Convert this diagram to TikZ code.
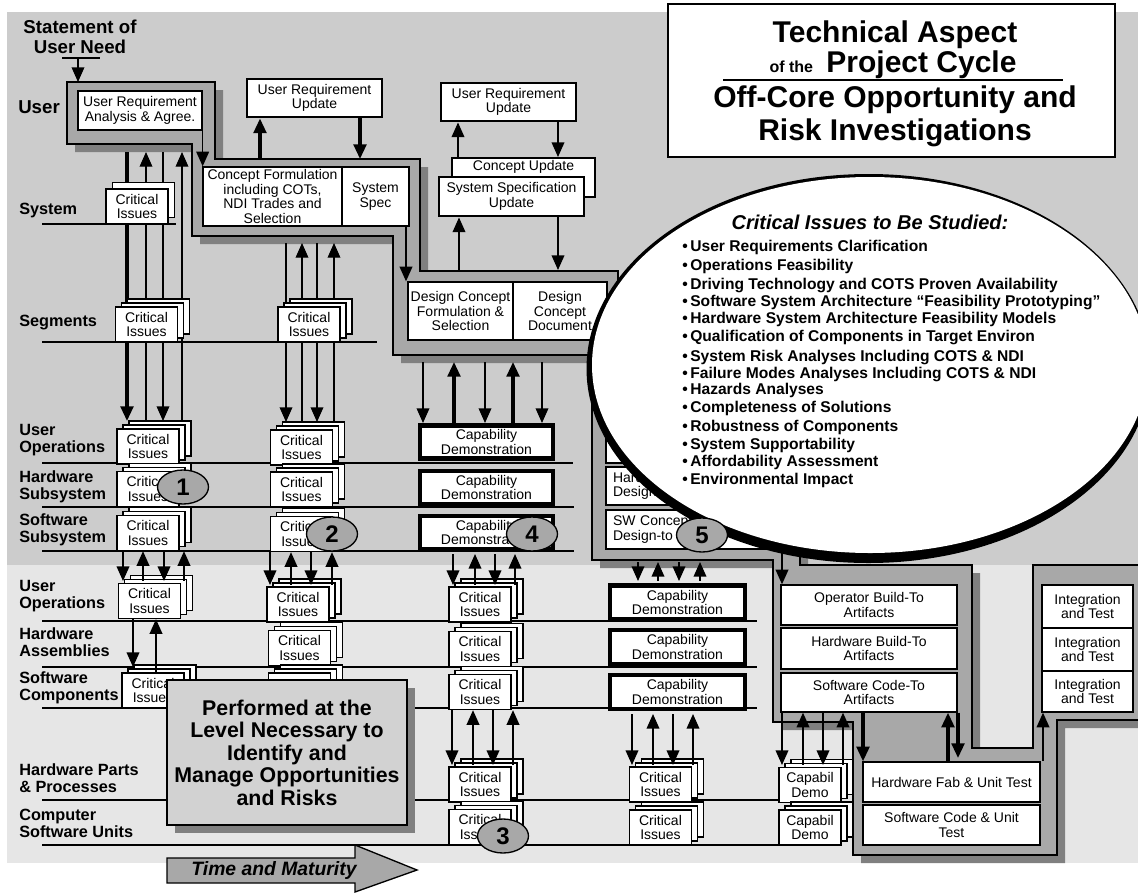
\documentclass[tikz,border=0pt]{standalone}
\usepackage{fontspec}
\setmainfont{Liberation Sans}
\usetikzlibrary{arrows.meta, shadows, shapes.geometric}

\definecolor{bandtop}{HTML}{CCCCCC}
\definecolor{bandlow}{HTML}{E6E6E6}
\definecolor{stepgray}{HTML}{A8A8A8}
\definecolor{shadegray}{HTML}{808080}
\definecolor{notegray}{HTML}{D2D2D2}

\tikzset{
  wh/.style 2 args={minimum width=#1*0.75pt, minimum height=#2*0.75pt},
  box/.style={draw, fill=white, line width=1pt, inner sep=0pt, align=center,
    font=\fontsize{10.5}{10.8}\selectfont},
  fatbox/.style={box, line width=2.2pt},
  capbox/.style={box, line width=3.3pt},
  sheet/.style={fill=white, draw=black, line width=1pt},
  issues/.style={box, wh={62}{35},
    general shadow={sheet, shadow xshift=9pt, shadow yshift=6pt},
    general shadow={sheet, shadow xshift=4.5pt, shadow yshift=3pt}},
  issues2/.style={box, wh={62}{35},
    general shadow={sheet, shadow xshift=5pt, shadow yshift=5pt}},
  level/.style={anchor=west, align=left, inner sep=0pt,
    font=\fontsize{12.2}{12.8}\selectfont\bfseries},
  tag/.style={ellipse, draw, fill=stepgray, line width=1pt, inner sep=0pt,
    wh={51}{34}, font=\fontsize{18}{18}\selectfont\bfseries},
  link/.style={line width=1.2pt},
  hair/.style={line width=1pt},
  heavy/.style={line width=2.4pt},
  godn/.style={-{Triangle[length=11pt,width=9.5pt]}},
  goup/.style={{Triangle[length=11pt,width=9.5pt]}-},
  lift/.style={drop shadow={shadow xshift=6pt, shadow yshift=-6pt,
    opacity=1, fill=shadegray}},
}

\begin{document}
\begin{tikzpicture}[x=0.75pt, y=-0.75pt]
\useasboundingbox (0,0) rectangle (1138,893);

% two background bands
\fill[bandtop] (7,12) rectangle (1138,565);
\fill[bandlow] (7,565) rectangle (1138,863);

% level lines and their names
\foreach \y/\xe in {224/176, 342/377, 463/573, 507/574, 551/574,
                    621/757, 667/757, 708/757, 800/779, 845/779}
  \draw[hair] (42,\y) -- (\xe,\y);

\node[align=center, inner sep=0pt, font=\fontsize{14}{15}\selectfont\bfseries]
  (need) at (80,37) {Statement of\\User Need};
\node[level, font=\fontsize{14}{15}\selectfont\bfseries] (lvuser) at (18,107) {User};
\foreach \y/\lbl/\nm in {211/System/sys, 323/Segments/seg,
    440/{User\\Operations}/uop, 487/{Hardware\\Subsystem}/hws,
    530/{Software\\Subsystem}/sws, 596/{User\\Operations}/uoptwo,
    642/{Hardware\\Assemblies}/hwa, 688/{Software\\Components}/swc,
    778/{Hardware Parts\\\& Processes}/hwp, 823/{Computer\\Software Units}/csu}
  \node[level] (lv\nm) at (19,\y) {\lbl};

% the off-core step band
\filldraw[fill=stepgray, line width=1.2pt, lift]
  (67,82) -- (215,82) -- (215,159) -- (420,159) -- (420,271) -- (618,271)
  -- (618,365) -- (800,365) -- (800,565) -- (972,565) -- (972,748)
  -- (1033,748) -- (1033,565) -- (1150,565) -- (1150,720) -- (1057,720)
  -- (1057,855) -- (853,855) -- (853,722) -- (773,722) -- (773,560)
  -- (592,560) -- (592,355) -- (393,355) -- (393,236) -- (192,236)
  -- (192,144) -- (67,144) -- cycle;

\draw[hair] (62,58) -- (100,58);
\draw[hair, godn] (78,58) -- (78,82);

% long bundles that run behind the stacks
\foreach \x/\s/\w in {127/godn/heavy, 146/goup/hair, 163/godn/hair, 182/goup/hair}
  \draw[\w,\s] (\x,152) -- (\x,421);
\foreach \x/\s in {286/godn, 302/goup, 317/godn, 334/goup}
  \draw[hair,\s] (\x,243) -- (\x,422);

% user / concept / design boxes
\node[box, wh={124}{39}] (ura) at (140,110.5) {User Requirement\\Analysis \& Agree.};
\node[fatbox, wh={135}{38}] (uru1) at (314.5,98) {User Requirement\\Update};
\node[box, wh={139}{59}] (cf) at (272.5,196.5) {Concept Formulation\\including COTs,\\NDI Trades and\\Selection};
\node[box, wh={67}{59}] (sspec) at (375.5,196.5) {System\\Spec};
\node[fatbox, wh={135}{38}] (uru2) at (508.5,102) {User Requirement\\Update};
\node[fatbox, wh={143}{39}] (cu) at (523.5,177.5) {};
\node[anchor=north, inner sep=2.5pt, font=\fontsize{10.5}{10.8}\selectfont] (cutext) at (cu.north) {Concept Update};
\node[fatbox, wh={145}{39}] (ssu) at (511.5,196.5) {System Specification\\Update};
\node[box, wh={105}{58}] (dcf) at (460.5,311) {Design Concept\\Formulation \&\\Selection};
\node[box, wh={94}{58}] (dcd) at (560,311) {Design\\Concept\\Document};

\draw[link, godn] (ura.south east) -- (ura.south east |- cf.north);
\draw[heavy, goup] (260,0 |- uru1.south) -- (260,159);
\draw[heavy, godn] (360,0 |- uru1.south) -- (360,159);
\draw[link, goup] (458,0 |- uru2.south) -- (458,0 |- cu.north);
\draw[link, godn] (558,0 |- uru2.south) -- (558,157);
\draw[link, goup] (459,0 |- ssu.south) -- (459,271);
\draw[link, godn] (558,0 |- ssu.south) -- (558,270);
\draw[link, godn] (406,0 |- sspec.south) -- (406,0 |- dcf.north);

% design-to boxes
\node[box, wh={184}{40}] (opdt) at (698,443) {};
\node[box, wh={184}{38}, text width=127.5pt, align=left] (hwdt) at (698,486) {Hardware\\Design-To};
\node[box, wh={184}{39}, text width=127.5pt, align=left] (swdt) at (698,529.5) {SW Concept\\Design-to Specs};

% capability demonstrations
\foreach \nm/\y in {cdA/442, cdB/487.5, cdC/532.5}
  \node[capbox, wh={133}{33}] (\nm) at (486.5,\y) {Capability\\Demonstration};
\foreach \nm/\y in {ldA/602.5, ldB/647, ldC/692}
  \node[capbox, wh={135}{34}] (\nm) at (677.5,\y) {Capability\\Demonstration};

% critical issue stacks
\node[issues2] (ciSys) at (137,206.5) {Critical\\Issues};
\foreach \nm/\x/\y in {ciSegA/146.5/324.5, ciUopA/148/446.5, ciHwsA/148/489,
    ciSwsA/148/533, ciUoptwoA/149.5/601, ciSwcA/153/690.5,
    ciSegB/309/324.5, ciUopB/301.5/447.5, ciHwsB/301.5/489.5, ciSwsB/301.5/534,
    ciUoptwoB/298/604.5, ciHwaB/299.5/648,
    ciUoptwoC/480/604.5, ciHwaC/480/649, ciSwcC/480/692,
    ciHwpC/480/784.5, ciCsuC/480/827,
    ciHwpD/660.5/784.5, ciCsuD/660.5/827.5}
  \node[issues] (\nm) at (\x,\y) {Critical\\Issues};
\node[issues] (ciSwcB) at (299.5,690.5) {};
\foreach \nm/\y in {demoHwp/785, demoCsu/827.5}
  \node[issues] (\nm) at (810,\y) {Capabil\\Demo};

% build-to, fab and integration boxes
\node[box, wh={176}{40}] (obt) at (869,605) {Operator Build-To\\Artifacts};
\node[box, wh={176}{41}] (hbt) at (869,648.5) {Hardware Build-To\\Artifacts};
\node[box, wh={176}{39}] (sct) at (869,692.5) {Software Code-To\\Artifacts};
\node[box, wh={177}{40}] (hfu) at (951.5,782) {Hardware Fab \& Unit Test};
\node[box, wh={177}{40}] (scu) at (951.5,825) {Software Code \& Unit\\Test};
\foreach \nm/\y/\hh in {itA/606.5/43, itB/649.5/43, itC/691.5/41}
  \node[box, wh={91}{\hh}] (\nm) at (1087.5,\y) {Integration\\and Test};

% short bundles between levels
\foreach \x/\s in {123/godn, 143/goup, 164/godn, 184/goup}
  \draw[link,\s] (\x,0 |- ciSwsA.south) -- (\x,581);
\draw[link, godn] (133,0 |- ciUoptwoA.south) -- (133,667);
\draw[link, goup] (156,0 |- ciUoptwoA.south) -- (156,0 |- ciSwcA.north);
\foreach \x/\s in {270/godn, 291/goup, 311/godn, 332/goup}
  \draw[link,\s] (\x,0 |- ciSwsB.south) -- (\x,585);
\foreach \x/\s/\w in {423/godn/hair, 454/goup/heavy, 485/godn/hair, 513/goup/heavy, 542/godn/hair}
  \draw[\w,\s] (\x,362) -- (\x,423);
\foreach \x/\s in {453/godn, 475/goup, 495/godn, 515/goup}
  \draw[link,\s] (\x,554) -- (\x,585);
\foreach \x/\s in {452/godn, 473/goup, 493/godn, 513/goup}
  \draw[link,\s] (\x,0 |- ciSwcC.south) -- (\x,765);
\foreach \x/\s in {638/godn, 658/goup, 679/godn, 700/goup}
  \draw[link,\s] (\x,562) -- (\x,581);
\foreach \x/\s in {632/godn, 653/goup, 673/godn, 693/goup}
  \draw[link,\s] (\x,714) -- (\x,765);
\draw[link, godn] (782,552) -- (782,0 |- obt.north);
\foreach \x/\s in {782/godn, 803/goup, 823/godn, 843/goup}
  \draw[link,\s] (\x,0 |- sct.south) -- (\x,765);
\draw[heavy, godn] (863,0 |- sct.south) -- (863,0 |- hfu.north);
\draw[heavy, goup] (948,0 |- sct.south) -- (948,0 |- hfu.north);
\draw[heavy, godn] (958,0 |- sct.south) -- (958,758);
\draw[link, goup] (1043,0 |- itC.south) -- (1043,0 |- hfu.north);

% issues to be studied: rim heavier towards the lower left
\fill[black] (868.5,368.5) ellipse [x radius=282, y radius=194.5];
\fill[white] (870,365) ellipse [x radius=278, y radius=188];
\node[font=\fontsize{15}{15}\selectfont\bfseries\itshape] (studyhead) at (870,222)
  {Critical Issues to Be Studied:};
\foreach \y/\lbl in {247/User Requirements Clarification,
    266/Operations Feasibility,
    285/Driving Technology and COTS Proven Availability,
    302/Software System Architecture “Feasibility Prototyping”,
    319/Hardware System Architecture Feasibility Models,
    337/Qualification of Components in Target Environ,
    357/System Risk Analyses Including COTS \& NDI,
    374/Failure Modes Analyses Including COTS \& NDI,
    390/Hazards Analyses,
    408/Completeness of Solutions,
    427/Robustness of Components,
    445/System Supportability,
    462/Affordability Assessment,
    480/Environmental Impact}
  \node[anchor=west, inner sep=0pt, font=\fontsize{11.7}{12}\selectfont\bfseries]
    at (682,\y) {\textbullet\,\lbl};

% numbered investigation points
\foreach \nm/\x/\y/\lbl in {mkA/183/487/1, mkB/332/534/2, mkC/503/836/3,
    mkD/532/534/4, mkE/702/535/5}
  \node[tag] (\nm) at (\x,\y) {\lbl};

% title
\node[draw, fill=white, line width=1pt, wh={447}{153}] (title) at (891.5,80.5) {};
\node[anchor=base, font=\fontsize{22.5}{22.5}\selectfont\bfseries] at (895,42) {Technical Aspect};
\node[anchor=base, font=\fontsize{22.5}{22.5}\selectfont\bfseries] at (893,72)
  {{\fontsize{12}{12}\selectfont of the}\, Project Cycle};
\draw[hair] (723,80) -- (1063,80);
\node[anchor=base, font=\fontsize{22.5}{22.5}\selectfont\bfseries] at (895,107) {Off-Core Opportunity and};
\node[anchor=base, font=\fontsize{22.5}{22.5}\selectfont\bfseries] at (895,140) {Risk Investigations};

% note box and time arrow
\node[draw, fill=notegray, line width=1pt, wh={240}{145}, lift, align=center,
  font=\fontsize{16}{16.9}\selectfont\bfseries] (perf) at (287,752.5)
  {Performed at the\\Level Necessary to\\Identify and\\Manage Opportunities\\and Risks};
\filldraw[fill=stepgray, line width=1pt]
  (167,858) -- (355,858) -- (355,845) -- (417,870) -- (355,892) -- (355,883) -- (167,883) -- cycle;
\node[font=\fontsize{14.5}{14.5}\selectfont\bfseries\itshape] (time) at (274,870) {Time and Maturity};
\end{tikzpicture}
\end{document}
